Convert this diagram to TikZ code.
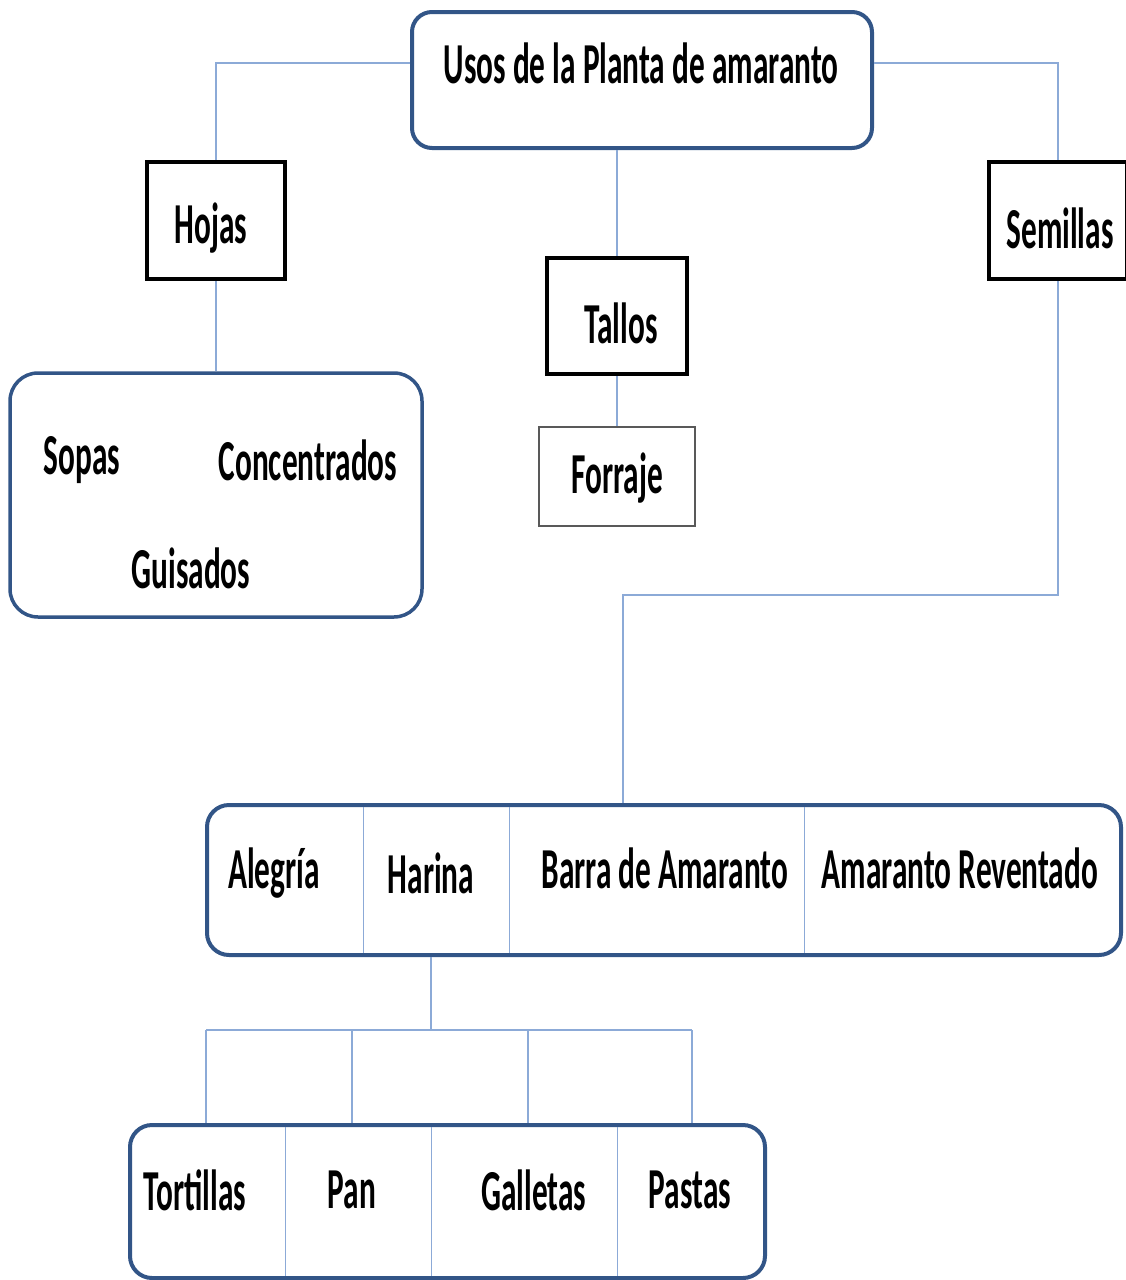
\documentclass[tikz,border=0pt]{standalone}
\usepackage{fontspec}
\setmainfont[FakeStretch=0.54]{Carlito}
\definecolor{boxblue}{RGB}{50,85,135}
\definecolor{lineblue}{RGB}{140,170,215}
\begin{document}
\begin{tikzpicture}[x=1pt,y=-1pt,
  conn/.style={draw=lineblue,line width=1.6pt},
  divider/.style={draw=lineblue,line width=1pt},
  rbox/.style={draw=boxblue,line width=4pt,rounded corners=20pt,fill=white},
  sqbox/.style={draw=black,line width=4pt,fill=white},
  grbox/.style={draw=black!65,line width=2pt,fill=white},
  txt/.style={font=\fontsize{58}{60}\selectfont\bfseries,inner sep=0pt}]
\useasboundingbox (0,0) rectangle (1125,1280);
% boxes
\node[rbox,minimum width=460pt,minimum height=136pt] (top) at (642,80) {};
\node[txt] (toptxt) at (641,63) {Usos de la Planta de amaranto};
\node[sqbox,minimum width=138pt,minimum height=117pt] (hojas) at (216,220.5) {};
\node[txt] (hojastxt) at (211,228) {Hojas};
\node[sqbox,minimum width=138pt,minimum height=117pt] (semillas) at (1058,220.5) {};
\node[txt] (semillastxt) at (1060,228) {Semillas};
\node[sqbox,minimum width=140pt,minimum height=116pt] (tallos) at (617,316) {};
\node[txt] (tallostxt) at (621,323) {Tallos};
\node[grbox,minimum width=156pt,minimum height=99pt] (forraje) at (617,476.5) {};
\node[txt] (forrajetxt) at (617,478) {Forraje};
\node[rbox,line width=3.5pt,rounded corners=28pt,minimum width=412pt,minimum height=244pt] (hojasbox) at (216,495) {};
\node[txt] (sopas) at (82,460) {Sopas};
\node[txt] (concentrados) at (308,460) {Concentrados};
\node[txt] (guisados) at (191,568) {Guisados};
\node[rbox,rounded corners=22pt,minimum width=914pt,minimum height=150pt] (row) at (664,880) {};
\node[txt] (alegria) at (274,873) {Alegría};
\node[txt] (harina) at (431,873) {Harina};
\node[txt] (barra) at (665,868) {Barra de Amaranto};
\node[txt] (reventado) at (960,868) {Amaranto Reventado};
\node[rbox,rounded corners=22pt,minimum width=635pt,minimum height=153pt] (bottom) at (447.5,1201.5) {};
\node[txt] (tortillas) at (195,1190) {Tortillas};
\node[txt] (pan) at (352,1190) {Pan};
\node[txt] (galletas) at (534,1190) {Galletas};
\node[txt] (pastas) at (690,1190) {Pastas};
% dividers
\foreach \x in {363,509,804} \draw[divider] (\x,807) -- (\x,953);
\foreach \x in {285,431,617} \draw[divider] (\x,1127) -- (\x,1276);
% connectors
\coordinate (sbend) at (623,595);
\coordinate (hbus) at (431,1030);
\coordinate (d1) at (206,1030);
\coordinate (d2) at (352,1030);
\coordinate (d3) at (528,1030);
\coordinate (d4) at (692,1030);
\begin{scope}[on background layer/.style={}]
\draw[conn] (top.west |- toptxt) -| (hojas.north);
\draw[conn] (top.east |- toptxt) -| (semillas.north);
\draw[conn] (tallos.north |- top.south) -- (tallos.north);
\draw[conn] (tallos.south) -- (forraje.north);
\draw[conn] (hojas.south) -- (hojasbox.north);
\draw[conn] (semillas.south) |- (sbend) -- (sbend |- row.north);
\draw[conn] (row.south -| harina) -- (hbus);
\draw[conn] (d1) -- (d4);
\draw[conn] (d1) -- (d1 |- bottom.north);
\draw[conn] (d2) -- (d2 |- bottom.north);
\draw[conn] (d3) -- (d3 |- bottom.north);
\draw[conn] (d4) -- (d4 |- bottom.north);
\end{scope}
\end{tikzpicture}
\end{document}
